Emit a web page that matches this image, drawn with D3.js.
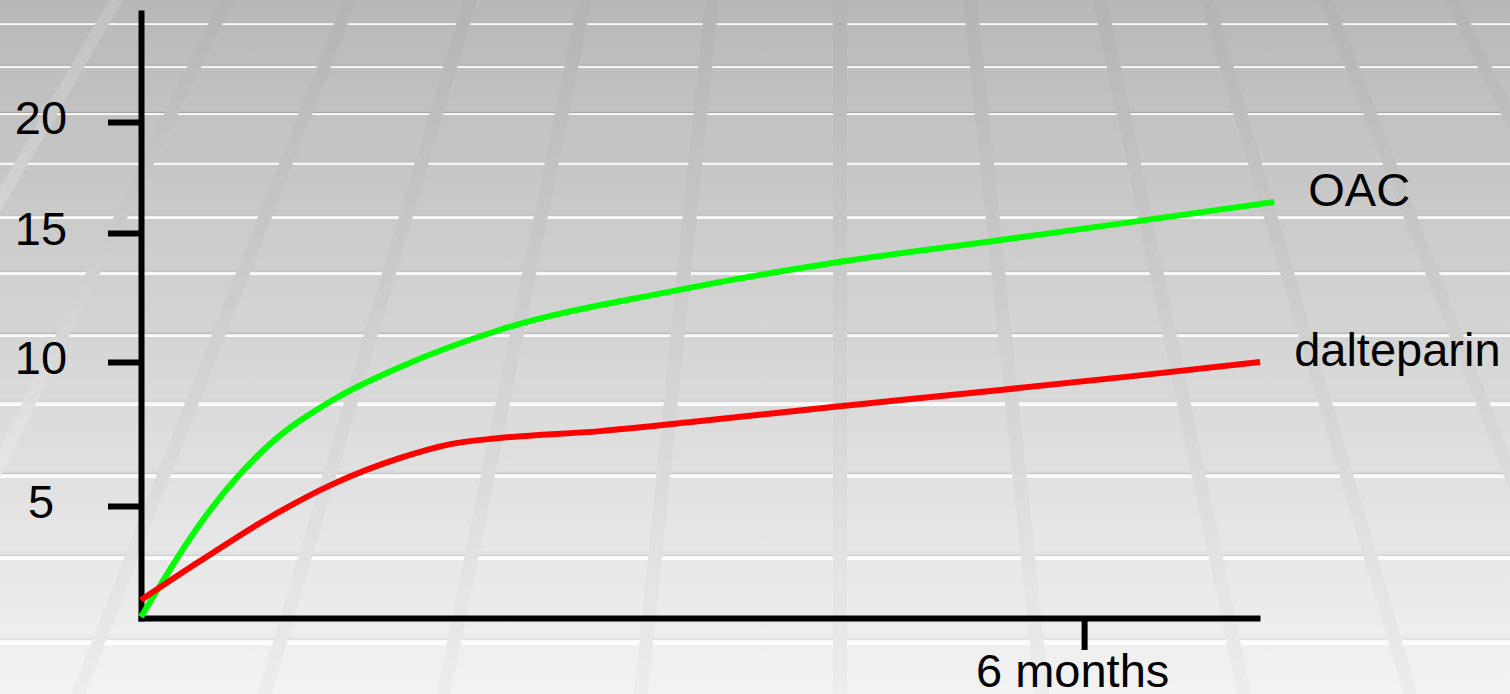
<!DOCTYPE html>
<html>
<head>
<meta charset="utf-8">
<script src="https://cdn.jsdelivr.net/npm/d3@7"></script>
<style>
  html, body { margin: 0; padding: 0; overflow: hidden; background: #ffffff; }
  svg { display: block; }
</style>
</head>
<body>
<svg id="chart" width="1510" height="694"></svg>
<script>
// Cumulative incidence (%) over follow-up time (months)
const oacMonths        = [0, 0.46, 0.80, 1.22, 1.65, 2.28, 3.35, 4.40, 5.47, 6.31, 7.21];
const oacValues        = [0.05, 5.0, 7.05, 8.68, 9.83, 11.24, 12.71, 13.84, 14.73, 15.5, 16.4];
const dalteparinMonths = [0, 0.375, 0.80, 1.22, 1.65, 1.97, 2.28, 2.92, 3.56, 4.40, 5.47, 6.31, 7.12];
const dalteparinValues = [0.8, 2.54, 4.42, 5.76, 6.67, 7.15, 7.36, 7.6, 7.95, 8.44, 9.03, 9.51, 10.0];
const seriesNames      = ["OAC", "dalteparin"];
const seriesColors     = ["#00ff00", "#ff0000"];

// Axis ticks
const yTickValues = [5, 10, 15, 20];
const xTickValues = [6];
const xTickLabels = ["6 months"];

const W = 1510, H = 694;
const FONT = "Arial, 'Liberation Sans', Helvetica, sans-serif";
const svg = d3.select("#chart");
const defs = svg.append("defs");

// ---------- backdrop: perspective floor ----------
function vGrad(id, stops) {
  const g = defs.append("linearGradient").attr("id", id)
    .attr("gradientUnits", "userSpaceOnUse").attr("x1", 0).attr("y1", 0).attr("x2", 0).attr("y2", H);
  stops.forEach(([o, c]) => g.append("stop").attr("offset", o).attr("stop-color", c));
}
vGrad("bgGrad", [[0, "#b8b8b8"], [1, "#f3f3f3"]]);
vGrad("bandGrad", [[0, "#b4b4b4"], [1, "#ededed"]]);
vGrad("bandLight", [[0, "#c1c1c1"], [0.4, "#d9d9d9"], [1, "#f5f5f5"]]);
vGrad("bandMixed", [[0, "#b5b5b5"], [0.3, "#c8c8c8"], [0.65, "#e4e4e4"], [1, "#f6f6f6"]]);

const rule = defs.append("linearGradient").attr("id", "ruleGrad")
  .attr("x1", 0).attr("y1", 0).attr("x2", 0).attr("y2", 1);
rule.append("stop").attr("offset", 0).attr("stop-color", "#000").attr("stop-opacity", 0);
rule.append("stop").attr("offset", 0.5).attr("stop-color", "#000").attr("stop-opacity", 0.035);
rule.append("stop").attr("offset", 0.58).attr("stop-color", "#fff").attr("stop-opacity", 0.7);
rule.append("stop").attr("offset", 1).attr("stop-color", "#fff").attr("stop-opacity", 1);

svg.append("rect").attr("width", W).attr("height", H).attr("fill", "url(#bgGrad)");

// horizontal floor rules (bottom edge of each white stripe)
const floorRules = [25, 68, 115, 165, 219, 275, 337, 406, 478, 560, 645];
svg.append("g").selectAll("rect").data(floorRules).join("rect")
  .attr("x", 0).attr("width", W)
  .attr("y", d => d - (4 + d * 0.011))
  .attr("height", d => 4 + d * 0.011)
  .attr("fill", "url(#ruleGrad)");

// receding floor stripes, all aimed at one vanishing point above the frame
const vpX = 840, vpDepth = 1250, stripeW = 14;
const stripeTops = [116, 227, 350, 470, 585, 712, 840, 970, 1100, 1207, 1326, 1452];
const stripeX = (x0, yy) => x0 + (x0 - vpX) * yy / vpDepth;
svg.append("g").selectAll("path").data(stripeTops).join("path")
  .attr("d", x0 => {
    const xb = stripeX(x0, H);
    return `M${x0 - stripeW / 2},0L${x0 + stripeW / 2},0L${xb + stripeW / 2},${H}L${xb - stripeW / 2},${H}Z`;
  })
  .attr("fill", (x0, i) => i === 0 ? "url(#bandLight)" : i === 1 ? "url(#bandMixed)" : "url(#bandGrad)");

// ---------- scales ----------
const x = d3.scaleLinear().domain([0, 7.1]).range([141, 1257]);
const y = d3.scaleLinear().domain([0, 5, 10, 15, 20, 25]).range([618, 506, 362, 233, 122, 13]);

// ---------- axes ----------
const yAxis = svg.append("g").attr("transform", `translate(${x(0)},0)`)
  .call(d3.axisLeft(y).tickValues(yTickValues).tickSize(33).tickSizeOuter(0));
const xAxis = svg.append("g").attr("transform", `translate(0,${y(0)})`)
  .call(d3.axisBottom(x).tickValues(xTickValues).tickSize(32).tickSizeOuter(0).tickPadding(4)
    .tickFormat((d, i) => xTickLabels[i]));

[yAxis, xAxis].forEach(g => {
  g.select(".domain").attr("stroke", "#000").attr("stroke-width", 6).attr("stroke-linecap", "square");
  g.selectAll(".tick line").attr("stroke", "#000").attr("stroke-width", 6);
  g.selectAll(".tick text").attr("fill", "#000").attr("font-family", FONT).attr("font-size", 47);
});
yAxis.selectAll(".tick text").attr("x", -100).attr("text-anchor", "middle").attr("dy", "0.35em")
  .attr("transform", "translate(0,-5)");
xAxis.selectAll(".tick text").attr("dx", -12);

// ---------- series ----------
const series = [
  { name: seriesNames[0], color: seriesColors[0], months: oacMonths, values: oacValues },
  { name: seriesNames[1], color: seriesColors[1], months: dalteparinMonths, values: dalteparinValues }
];
const line = d3.line().x(d => x(d[0])).y(d => y(d[1])).curve(d3.curveMonotoneX);

series.forEach(s => {
  const pts = s.months.map((m, i) => [m, s.values[i]]);
  svg.append("path").datum(pts)
    .attr("d", line)
    .attr("fill", "none")
    .attr("stroke", s.color)
    .attr("stroke-width", 6)
    .attr("stroke-linecap", "butt")
    .attr("stroke-linejoin", "round");
  const last = pts[pts.length - 1];
  svg.append("text")
    .attr("x", x(last[0]) + 34)
    .attr("y", y(last[1]) + 4)
    .attr("font-family", FONT)
    .attr("font-size", 47)
    .attr("fill", "#000")
    .text(s.name);
});
</script>
</body>
</html>
